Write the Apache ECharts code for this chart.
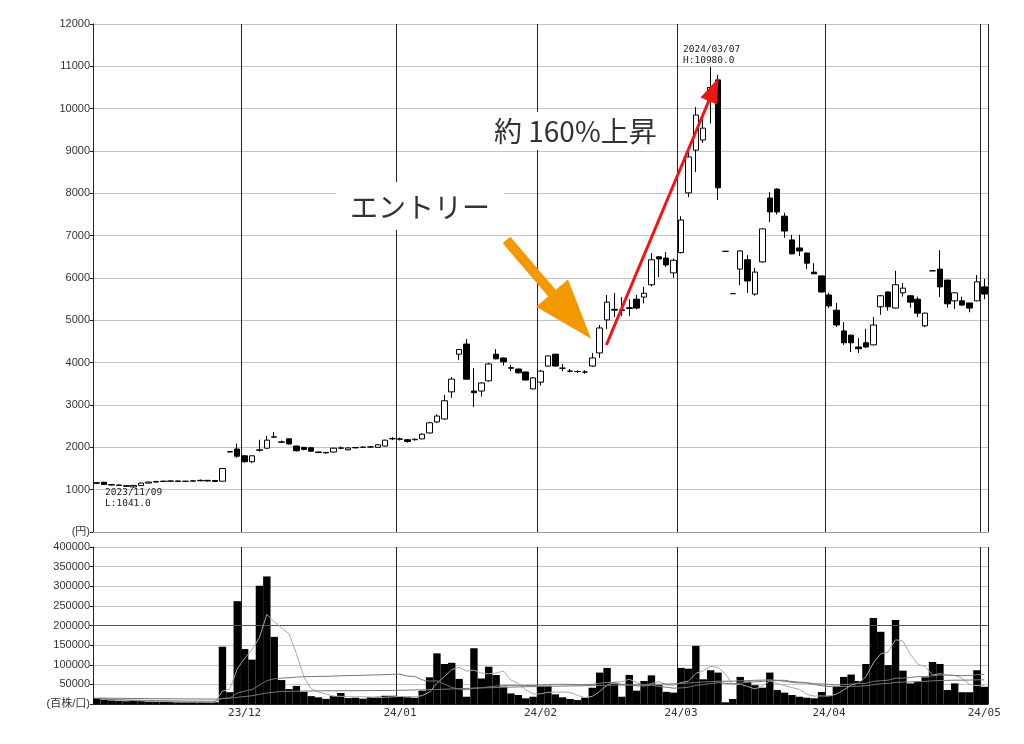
<!DOCTYPE html>
<html><head><meta charset="utf-8">
<script src="https://cdn.jsdelivr.net/npm/echarts@6/dist/echarts.min.js"></script>
<style>html,body{margin:0;padding:0;background:#fff}#c{width:1024px;height:744px}</style>
</head><body><div id="c"></div><script>
// ---- data ----
const dates = [
'2023/11/01','2023/11/02','2023/11/06','2023/11/07','2023/11/08','2023/11/09','2023/11/10','2023/11/13','2023/11/14','2023/11/15',
'2023/11/16','2023/11/17','2023/11/20','2023/11/21','2023/11/22','2023/11/24','2023/11/27','2023/11/28','2023/11/29','2023/11/30',
'2023/12/01','2023/12/04','2023/12/05','2023/12/06','2023/12/07','2023/12/08','2023/12/11','2023/12/12','2023/12/13','2023/12/14',
'2023/12/15','2023/12/18','2023/12/19','2023/12/20','2023/12/21','2023/12/22','2023/12/25','2023/12/26','2023/12/27','2023/12/28','2023/12/29',
'2024/01/04','2024/01/05','2024/01/09','2024/01/10','2024/01/11','2024/01/12','2024/01/15','2024/01/16','2024/01/17','2024/01/18',
'2024/01/19','2024/01/22','2024/01/23','2024/01/24','2024/01/25','2024/01/26','2024/01/29','2024/01/30','2024/01/31',
'2024/02/01','2024/02/02','2024/02/05','2024/02/06','2024/02/07','2024/02/08','2024/02/09','2024/02/13','2024/02/14','2024/02/15',
'2024/02/16','2024/02/19','2024/02/20','2024/02/21','2024/02/22','2024/02/26','2024/02/27','2024/02/28','2024/02/29',
'2024/03/01','2024/03/04','2024/03/05','2024/03/06','2024/03/07','2024/03/08','2024/03/11','2024/03/12','2024/03/13','2024/03/14',
'2024/03/15','2024/03/18','2024/03/19','2024/03/21','2024/03/22','2024/03/25','2024/03/26','2024/03/27','2024/03/28','2024/03/29',
'2024/04/01','2024/04/02','2024/04/03','2024/04/04','2024/04/05','2024/04/08','2024/04/09','2024/04/10','2024/04/11','2024/04/12',
'2024/04/15','2024/04/16','2024/04/17','2024/04/18','2024/04/19','2024/04/22','2024/04/23','2024/04/24','2024/04/25','2024/04/26','2024/04/30',
'2024/05/01'];
const opens = [
1150,1175,1120,1110,1095,1065,1095,1155,1180,1195,1200,1205,1195,1200,1210,1220,1215,1200,1890,1960,
1800,1660,1930,1980,2240,2120,2200,2030,2000,1990,1890,1880,1890,1980,1940,1990,2000,2010,2000,2030,2200,
2190,2180,2180,2200,2340,2600,2670,3310,4200,4440,3330,3330,3570,4200,4110,3880,3850,3780,3380,
3540,3920,4200,3870,3800,3790,3780,3920,4230,5010,5260,5230,5280,5500,5550,5840,6500,6470,6120,
6600,8010,9020,9260,10200,10680,6630,5630,6210,6430,5620,6380,7890,8100,7460,6900,6710,6590,6140,6050,
5600,5240,4750,4650,4370,4470,4420,5320,5670,5290,5650,5580,5500,4870,6170,6210,5950,5460,5460,5410,5460,
5790];
const closes = [
1165,1125,1110,1100,1080,1100,1155,1180,1195,1200,1205,1195,1200,1210,1220,1205,1195,1500,1900,1790,
1660,1800,1940,2170,2250,2130,2080,1920,1950,1910,1880,1870,1980,1985,1985,1995,2005,2010,2060,2170,2210,
2200,2140,2190,2310,2580,2740,3100,3610,4310,3610,3290,3520,3970,4090,4020,3870,3760,3590,3640,
3800,4160,3920,3870,3800,3790,3780,4110,4820,5430,5240,5250,5300,5290,5640,6430,6450,6310,6420,
7370,8860,9850,9540,10500,8130,6630,5630,6640,5930,6140,7160,7560,7560,7110,6570,6640,6350,6100,5670,
5340,4890,4470,4470,4330,4370,4890,5580,5320,5840,5760,5430,5170,5170,6170,5790,5390,5650,5360,5290,5910,
5620];
const lows = [
1140,1115,1095,1085,1065,1041,1090,1150,1170,1185,1190,1190,1185,1195,1200,1195,1190,1195,1880,1750,
1640,1630,1900,1960,2220,2100,2070,1900,1930,1900,1860,1850,1880,1960,1930,1970,1985,1990,1995,2020,2170,
2160,2110,2160,2190,2330,2580,2650,3170,4060,3600,2950,3200,3550,4080,3930,3800,3740,3580,3370,
3460,3900,3910,3800,3770,3760,3740,3900,4110,4800,5080,5100,5100,5260,5400,5800,6020,6260,6000,
6580,7910,8500,9190,9650,7840,6630,5630,5830,5650,5580,6360,7320,7500,6950,6560,6520,6210,6090,5650,
5290,4840,4420,4250,4230,4350,4410,5130,5230,5280,5560,5300,5080,4840,6170,5550,5300,5270,5340,5190,5450,
5500];
const highs = [
1175,1185,1135,1120,1105,1110,1170,1190,1200,1210,1215,1215,1210,1215,1240,1230,1220,1500,1910,2090,
1810,1810,2180,2270,2360,2160,2210,2040,2010,2000,1900,1890,1990,2020,1995,2010,2020,2030,2070,2180,2240,
2230,2200,2210,2330,2600,2780,3240,3660,4320,4560,3870,3540,4000,4320,4120,3950,3860,3790,3660,
3820,4170,4210,3970,3850,3820,3820,4230,4890,5600,5650,5550,5500,5600,5790,6590,6520,6610,6460,
7460,8980,10040,9780,10980,10800,6630,5630,6660,6540,6240,7170,8030,8120,7540,7020,7020,6600,6350,6060,
5650,5410,4960,4660,4580,4800,5080,5590,5680,6170,5880,5590,5560,5180,6170,6660,5960,5660,5560,5420,6070,
5980];
const volumes = [
14500,11000,9000,8000,7000,9000,7500,6000,5500,5000,5000,4500,4500,5000,4500,4000,4500,146000,30000,262000,
140000,113000,301000,325000,171000,61000,38000,46000,31000,20000,17000,13000,20000,28000,15000,16000,13500,17000,18500,21000,21000,
18500,17000,16000,34000,68000,129000,102000,105000,64000,18500,142000,65000,95000,74000,44000,27000,23000,14500,18500,
46500,46500,24500,17000,12700,10000,16000,41500,80000,92000,52000,18500,74000,34000,58500,73000,48000,31000,29000,
92000,90000,148000,63000,86000,80000,4300,12700,69000,57000,48000,41500,80000,35600,29000,23000,18500,16000,14500,30500,
21000,44000,69000,75000,58500,102000,219000,184000,99000,214000,85000,52500,57000,68000,107000,102000,35600,52500,30000,30000,86000,
44000];
// long (75-day) volume average read off the picture where its earlier history is not in the data
const ma75ReadIdx = [0, 8, 16, 17, 19, 21, 23, 25, 30, 40, 46, 52, 58, 64, 70];
const ma75ReadVal = [15000, 13500, 12500, 13500, 17000, 21000, 28000, 32000, 33500, 34500, 37000, 41000, 44000, 46000, 48000];
const monthStarts = ['2023/12/01','2024/01/04','2024/02/01','2024/03/01','2024/04/01','2024/05/01'];
const monthLabels = ['23/12','24/01','24/02','24/03','24/04','24/05'];

// ---- derived ----
const candle = dates.map((d, i) => [opens[i], closes[i], lows[i], highs[i]]);
function movingAvg(arr, n) {
  return arr.map((_, i) => { const s = Math.max(0, i - n + 1); let sum = 0; for (let k = s; k <= i; k++) sum += arr[k]; return Math.round(sum / (i - s + 1)); });
}
const ma5 = movingAvg(volumes, 5);
const ma25 = movingAvg(volumes, 25);
const ma75 = volumes.map((_, i) => {
  if (i >= 74) { let s = 0; for (let k = i - 74; k <= i; k++) s += volumes[k]; return Math.round(s / 75); }
  const j = ma75ReadIdx.indexOf(i); return j >= 0 ? ma75ReadVal[j] : null;
});
const monthIdx = monthStarts.map(d => dates.indexOf(d));
const isMonth = (idx) => monthIdx.indexOf(idx) >= 0;

const FONT = 'Liberation Sans, Noto Sans CJK JP, sans-serif';
const chart = echarts.init(document.getElementById('c'), null, {renderer: 'canvas'});
chart.setOption({
  animation: false,
  backgroundColor: '#fff',
  textStyle: {fontFamily: FONT},
  grid: [
    {left: 93, right: 36, top: 24, height: 508},
    {left: 93, right: 36, top: 547, height: 157}
  ],
  xAxis: [
    {type: 'category', gridIndex: 0, data: dates, boundaryGap: true,
     axisLine: {lineStyle: {color: '#999'}}, axisTick: {show: false}, axisLabel: {show: false},
     splitLine: {show: true, interval: (i) => isMonth(i), lineStyle: {color: '#222', width: 1}}},
    {type: 'category', gridIndex: 1, data: dates, boundaryGap: true,
     axisLine: {lineStyle: {color: '#222'}}, axisTick: {show: false},
     axisLabel: {interval: (i) => isMonth(i), formatter: (v) => monthLabels[monthStarts.indexOf(v)],
       fontSize: 11, color: '#333', margin: 4, fontFamily: 'DejaVu Sans Mono, monospace'},
     splitLine: {show: true, interval: (i) => isMonth(i), lineStyle: {color: '#222', width: 1}}},
    {type: 'value', gridIndex: 0, min: 0, max: 121, show: false}
  ],
  yAxis: [
    {type: 'value', gridIndex: 0, min: 0, max: 12000, interval: 1000,
     axisLine: {show: true, lineStyle: {color: '#222'}}, axisTick: {show: true, length: 3, lineStyle: {color: '#222'}},
     axisLabel: {fontSize: 11, color: '#333', margin: 3, formatter: (v) => v === 0 ? '(円)' : String(v)},
     splitLine: {show: true, lineStyle: {color: '#c4c4c4'}}},
    {type: 'value', gridIndex: 1, min: 0, max: 400000, interval: 50000,
     axisLine: {show: true, lineStyle: {color: '#222'}}, axisTick: {show: true, length: 3, lineStyle: {color: '#222'}},
     axisLabel: {fontSize: 11, color: '#333', margin: 3, formatter: (v) => v === 0 ? '(百株/口)' : String(v)},
     splitLine: {show: true, lineStyle: {color: '#c4c4c4'}}}
  ],
  graphic: [
    {type: 'rect', shape: {x: 336, y: 182, width: 168, height: 48}, style: {fill: '#fff'}, z: 50},
    {type: 'text', x: 350, y: 207, z: 51, style: {text: 'エントリー', fontSize: 28, fontFamily: 'Noto Sans CJK JP', fill: '#333', align: 'left', verticalAlign: 'middle'}},
    {type: 'rect', shape: {x: 484, y: 112, width: 190, height: 38}, style: {fill: '#fff'}, z: 50},
    {type: 'text', x: 494, y: 131, z: 51, style: {text: '約 160%上昇', fontSize: 28, fontFamily: 'Noto Sans CJK JP', fill: '#333', align: 'left', verticalAlign: 'middle'}},
    {type: 'text', x: 683, y: 50, z: 51, style: {text: '2024/03/07', fontSize: 9.5, fontFamily: 'DejaVu Sans Mono', fill: '#222', align: 'left', verticalAlign: 'middle'}},
    {type: 'text', x: 683, y: 61, z: 51, style: {text: 'H:10980.0', fontSize: 9.5, fontFamily: 'DejaVu Sans Mono', fill: '#222', align: 'left', verticalAlign: 'middle'}},
    {type: 'text', x: 105, y: 493, z: 51, style: {text: '2023/11/09', fontSize: 9.5, fontFamily: 'DejaVu Sans Mono', fill: '#222', align: 'left', verticalAlign: 'middle'}},
    {type: 'text', x: 105, y: 504, z: 51, style: {text: 'L:1041.0', fontSize: 9.5, fontFamily: 'DejaVu Sans Mono', fill: '#222', align: 'left', verticalAlign: 'middle'}}
  ],
  series: [
    {type: 'candlestick', xAxisIndex: 0, yAxisIndex: 0, data: candle, barWidth: 6,
     itemStyle: {color: '#fff', color0: '#000', borderColor: '#000', borderColor0: '#000', borderWidth: 1}},
    {type: 'bar', xAxisIndex: 1, yAxisIndex: 1, data: volumes, barWidth: '100%', barCategoryGap: '0%',
     itemStyle: {color: '#000'},
     markLine: {silent: true, symbol: 'none', label: {show: false}, lineStyle: {color: '#555', type: 'solid', width: 1},
       data: [{yAxis: 200000}]}},
    {type: 'line', xAxisIndex: 1, yAxisIndex: 1, data: ma5, showSymbol: false, symbol: 'none', lineStyle: {color: '#a8a8a8', width: 1}, z: 5},
    {type: 'line', xAxisIndex: 1, yAxisIndex: 1, data: ma25, showSymbol: false, symbol: 'none', lineStyle: {color: '#777', width: 1}, z: 5},
    {type: 'line', xAxisIndex: 1, yAxisIndex: 1, data: ma75, connectNulls: true, showSymbol: false, symbol: 'none', lineStyle: {color: '#777', width: 1}, z: 5},
    {type: 'line', xAxisIndex: 2, yAxisIndex: 0, data: [], z: 60,
     markLine: {silent: true, animation: false, label: {show: false}, z: 60,
       data: [
         [{coord: [55.9, 6898], symbol: 'none', lineStyle: {color: '#F39800', width: 10, type: 'solid'}, itemStyle: {color: '#F39800'}},
          {coord: [64.7, 5105], symbol: 'triangle', symbolSize: [42, 60], itemStyle: {color: '#F39800'}}],
         [{coord: [69.4, 4418], symbol: 'none', lineStyle: {color: '#F01414', width: 3, type: 'solid'}, itemStyle: {color: '#F01414'}},
          {coord: [83.9, 10453], symbol: 'triangle', symbolSize: [18, 25], itemStyle: {color: '#F01414'}}]
       ]}}
  ]
});
</script></body></html>
